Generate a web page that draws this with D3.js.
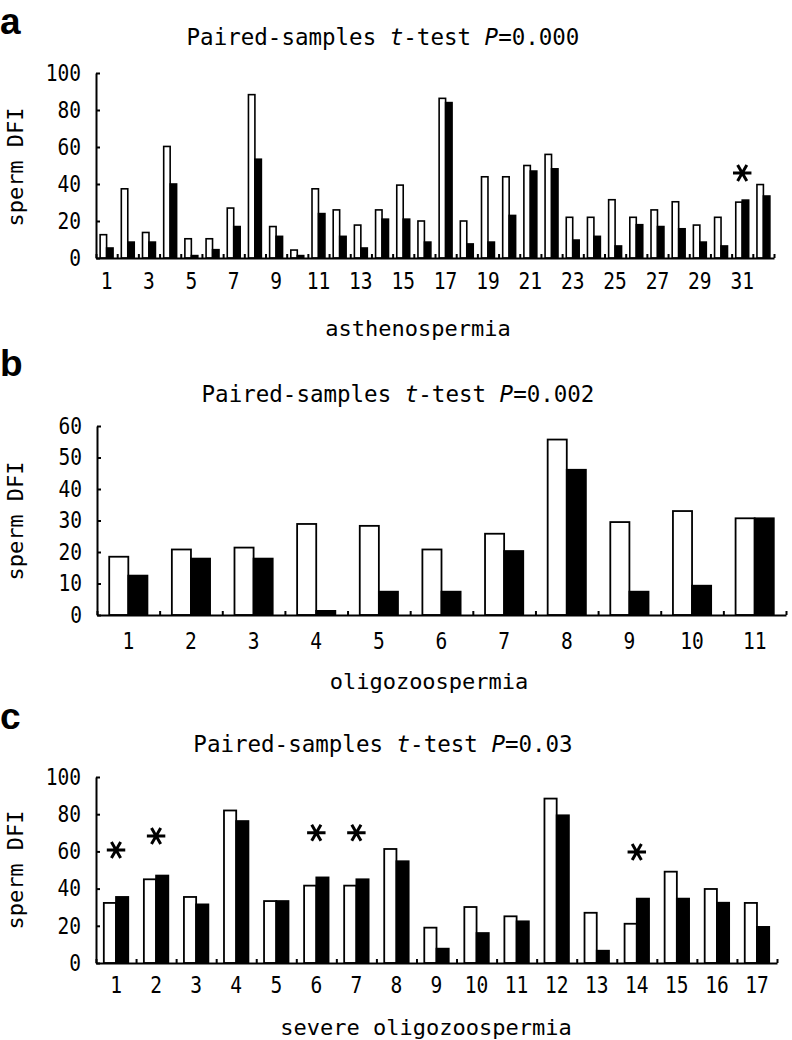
<!DOCTYPE html>
<html><head><meta charset="utf-8">
<script src="https://cdn.jsdelivr.net/npm/d3@7"></script>
<style>
html,body{margin:0;padding:0;background:#fff;}
svg{display:block;}
</style></head>
<body>
<script>
// ---- data ----
const aCats = d3.range(1, 33).map(String);
const aLabels = ["1","3","5","7","9","11","13","15","17","19","21","23","25","27","29","31"];
const aBefore = [12.6,37.4,13.8,60.3,10.4,10.4,27,88.3,17,4.3,37.4,26,17.8,26,39.4,20,86.3,20,43.9,43.9,50,56,22,22,31.5,22,26,30.4,17.8,22,30.2,39.7];
const aAfter  = [5.4,8.6,8.6,40,1.3,4.5,17,53.4,11.7,1.3,24,11.7,5.4,21,21,8.6,84,7.6,8.6,23,47,48.2,9.7,11.7,6.5,18,17,15.8,8.6,6.5,31.3,33.5];
const aStarCats = ["31"];
const aStarY = [46];
const aTicks = [0,20,40,60,80,100];

const bCats = d3.range(1, 12).map(String);
const bLabels = bCats;
const bBefore = [18.5,20.8,21.4,28.9,28.3,20.8,25.8,55.7,29.5,33,30.7];
const bAfter  = [12.5,17.9,17.9,1.3,7.4,7.4,20.3,46.1,7.4,9.3,30.7];
const bStarCats = [];
const bStarY = [];
const bTicks = [0,10,20,30,40,50,60];

const cCats = d3.range(1, 18).map(String);
const cLabels = cCats;
const cBefore = [32.3,45,35.5,82,33.3,41.6,41.6,61.3,19,30.1,25.1,88.4,27,21.1,49.1,39.8,32.3];
const cAfter  = [35.5,47,31.5,76.3,33.3,46,45,54.7,7.7,16.1,22.4,79.4,6.6,34.6,34.6,32.4,19.4];
const cStarCats = ["1","2","6","7","14"];
const cStarY = [60.7,68.3,70,70,59.7];
const cTicks = [0,20,40,60,80,100];

const pValues = ["0.000","0.002","0.03"];
const groupNames = ["asthenospermia","oligozoospermia","severe oligozoospermia"];
const panelLetters = ["a","b","c"];

// ---- drawing ----
const W = 792, H = 1040;
const svg = d3.select("body").append("svg").attr("width", W).attr("height", H);
const MONO = "'DejaVu Sans Mono', monospace";

function panel(opt) {
  const g = svg.append("g");
  const x0 = d3.scaleBand().domain(opt.cats).range(opt.xr).paddingInner(0.39).paddingOuter(0.195);
  const x1 = d3.scaleBand().domain(["before","after"]).range([0, x0.bandwidth()]);
  const xb = d3.scaleLinear().domain([0, opt.cats.length]).range(opt.xr);
  const y = d3.scaleLinear().domain([0, opt.ymax]).range(opt.yr);

  // panel letter
  g.append("text").attr("x", 0).attr("y", opt.letterY)
    .attr("font-family", "'Liberation Sans', Arial, sans-serif").attr("font-weight", "bold")
    .attr("font-size", 37).text(opt.letter);

  // title
  const t = g.append("text").attr("x", opt.titleX).attr("y", opt.titleY)
    .attr("text-anchor", "middle").attr("font-family", MONO).attr("font-size", 22.5);
  t.append("tspan").text("Paired-samples ");
  t.append("tspan").attr("font-style", "italic").text("t");
  t.append("tspan").text("-test ");
  t.append("tspan").attr("font-style", "italic").text("P");
  t.append("tspan").text("=" + opt.p);

  // bars
  const data = opt.cats.map((c, i) => ({cat: c, before: opt.before[i], after: opt.after[i]}));
  const grp = g.selectAll("g.pair").data(data).join("g").attr("class", "pair")
    .attr("transform", d => `translate(${x0(d.cat)},0)`);
  grp.selectAll("rect").data(d => [{k: "before", v: d.before}, {k: "after", v: d.after}]).join("rect")
    .attr("x", d => x1(d.k)).attr("width", x1.bandwidth())
    .attr("y", d => y(d.v)).attr("height", d => y(0) - y(d.v))
    .attr("fill", d => d.k === "before" ? "#fff" : "#000")
    .attr("stroke", "#000").attr("stroke-width", opt.sw);

  // y axis
  const ya = g.append("g").attr("transform", `translate(${opt.xr[0]},0)`)
    .call(d3.axisLeft(y).tickValues(opt.ticks).tickSizeInner(-4).tickSizeOuter(0).tickPadding(17.5));
  ya.select(".domain").attr("stroke-width", 2);
  ya.selectAll(".tick line").attr("stroke-width", 2);
  ya.selectAll("text").attr("font-family", MONO).attr("font-size", 23).attr("fill", "#000")
    .attr("transform", "scale(0.85,1)");

  // x axis: boundary ticks
  const xa = g.append("g").attr("transform", `translate(0,${opt.yr[0]})`)
    .call(d3.axisBottom(xb).tickValues(d3.range(0, opt.cats.length + 1)).tickFormat("").tickSizeInner(-4).tickSizeOuter(0));
  xa.select(".domain").attr("stroke-width", 2);
  xa.selectAll(".tick line").attr("stroke-width", 2);

  // x category labels
  const xl = g.append("g").attr("transform", `translate(0,${opt.yr[0]})`)
    .call(d3.axisBottom(x0).tickValues(opt.labels).tickSize(0).tickPadding(opt.xpad));
  xl.select(".domain").remove();
  xl.selectAll("text").attr("font-family", MONO).attr("font-size", 23).attr("fill", "#000")
    .attr("transform", "scale(0.85,1)");

  // asterisks
  const stars = opt.starCats.map((c, i) => ({cat: c, v: opt.starY[i]}));
  g.selectAll("path.star").data(stars).join("path").attr("class", "star")
    .attr("d", d3.symbol(d3.symbolAsterisk, 240))
    .attr("transform", d => `translate(${x0(d.cat) + x0.bandwidth() / 2},${y(d.v)}) rotate(90)`)
    .attr("fill", "none").attr("stroke", "#000").attr("stroke-width", 3);

  // y label
  g.append("text").attr("transform", `translate(23,${opt.ylabY}) rotate(-90)`)
    .attr("text-anchor", "middle").attr("font-family", MONO).attr("font-size", 22).text("sperm DFI");

  // x label
  g.append("text").attr("x", opt.xlabX).attr("y", opt.xlabY).attr("text-anchor", "middle")
    .attr("font-family", MONO).attr("font-size", 22).text(opt.group);
}

panel({letter: panelLetters[0], letterY: 34, cats: aCats, labels: aLabels, before: aBefore, after: aAfter,
  starCats: aStarCats, starY: aStarY, ticks: aTicks, ymax: 100, xr: [96, 774], yr: [258, 73],
  p: pValues[0], group: groupNames[0], titleX: 383, titleY: 45, ylabY: 167, xlabX: 418, xlabY: 336, xpad: 15, sw: 1.6});
panel({letter: panelLetters[1], letterY: 376, cats: bCats, labels: bLabels, before: bBefore, after: bAfter,
  starCats: bStarCats, starY: bStarY, ticks: bTicks, ymax: 60, xr: [97, 786], yr: [615, 426],
  p: pValues[1], group: groupNames[1], titleX: 398, titleY: 402, ylabY: 521, xlabX: 429, xlabY: 689, xpad: 18, sw: 1.8});
panel({letter: panelLetters[2], letterY: 729, cats: cCats, labels: cLabels, before: cBefore, after: cAfter,
  starCats: cStarCats, starY: cStarY, ticks: cTicks, ymax: 100, xr: [96, 777], yr: [963, 777],
  p: pValues[2], group: groupNames[2], titleX: 383, titleY: 752, ylabY: 870, xlabX: 426, xlabY: 1035, xpad: 14, sw: 1.8});
</script>
</body></html>
